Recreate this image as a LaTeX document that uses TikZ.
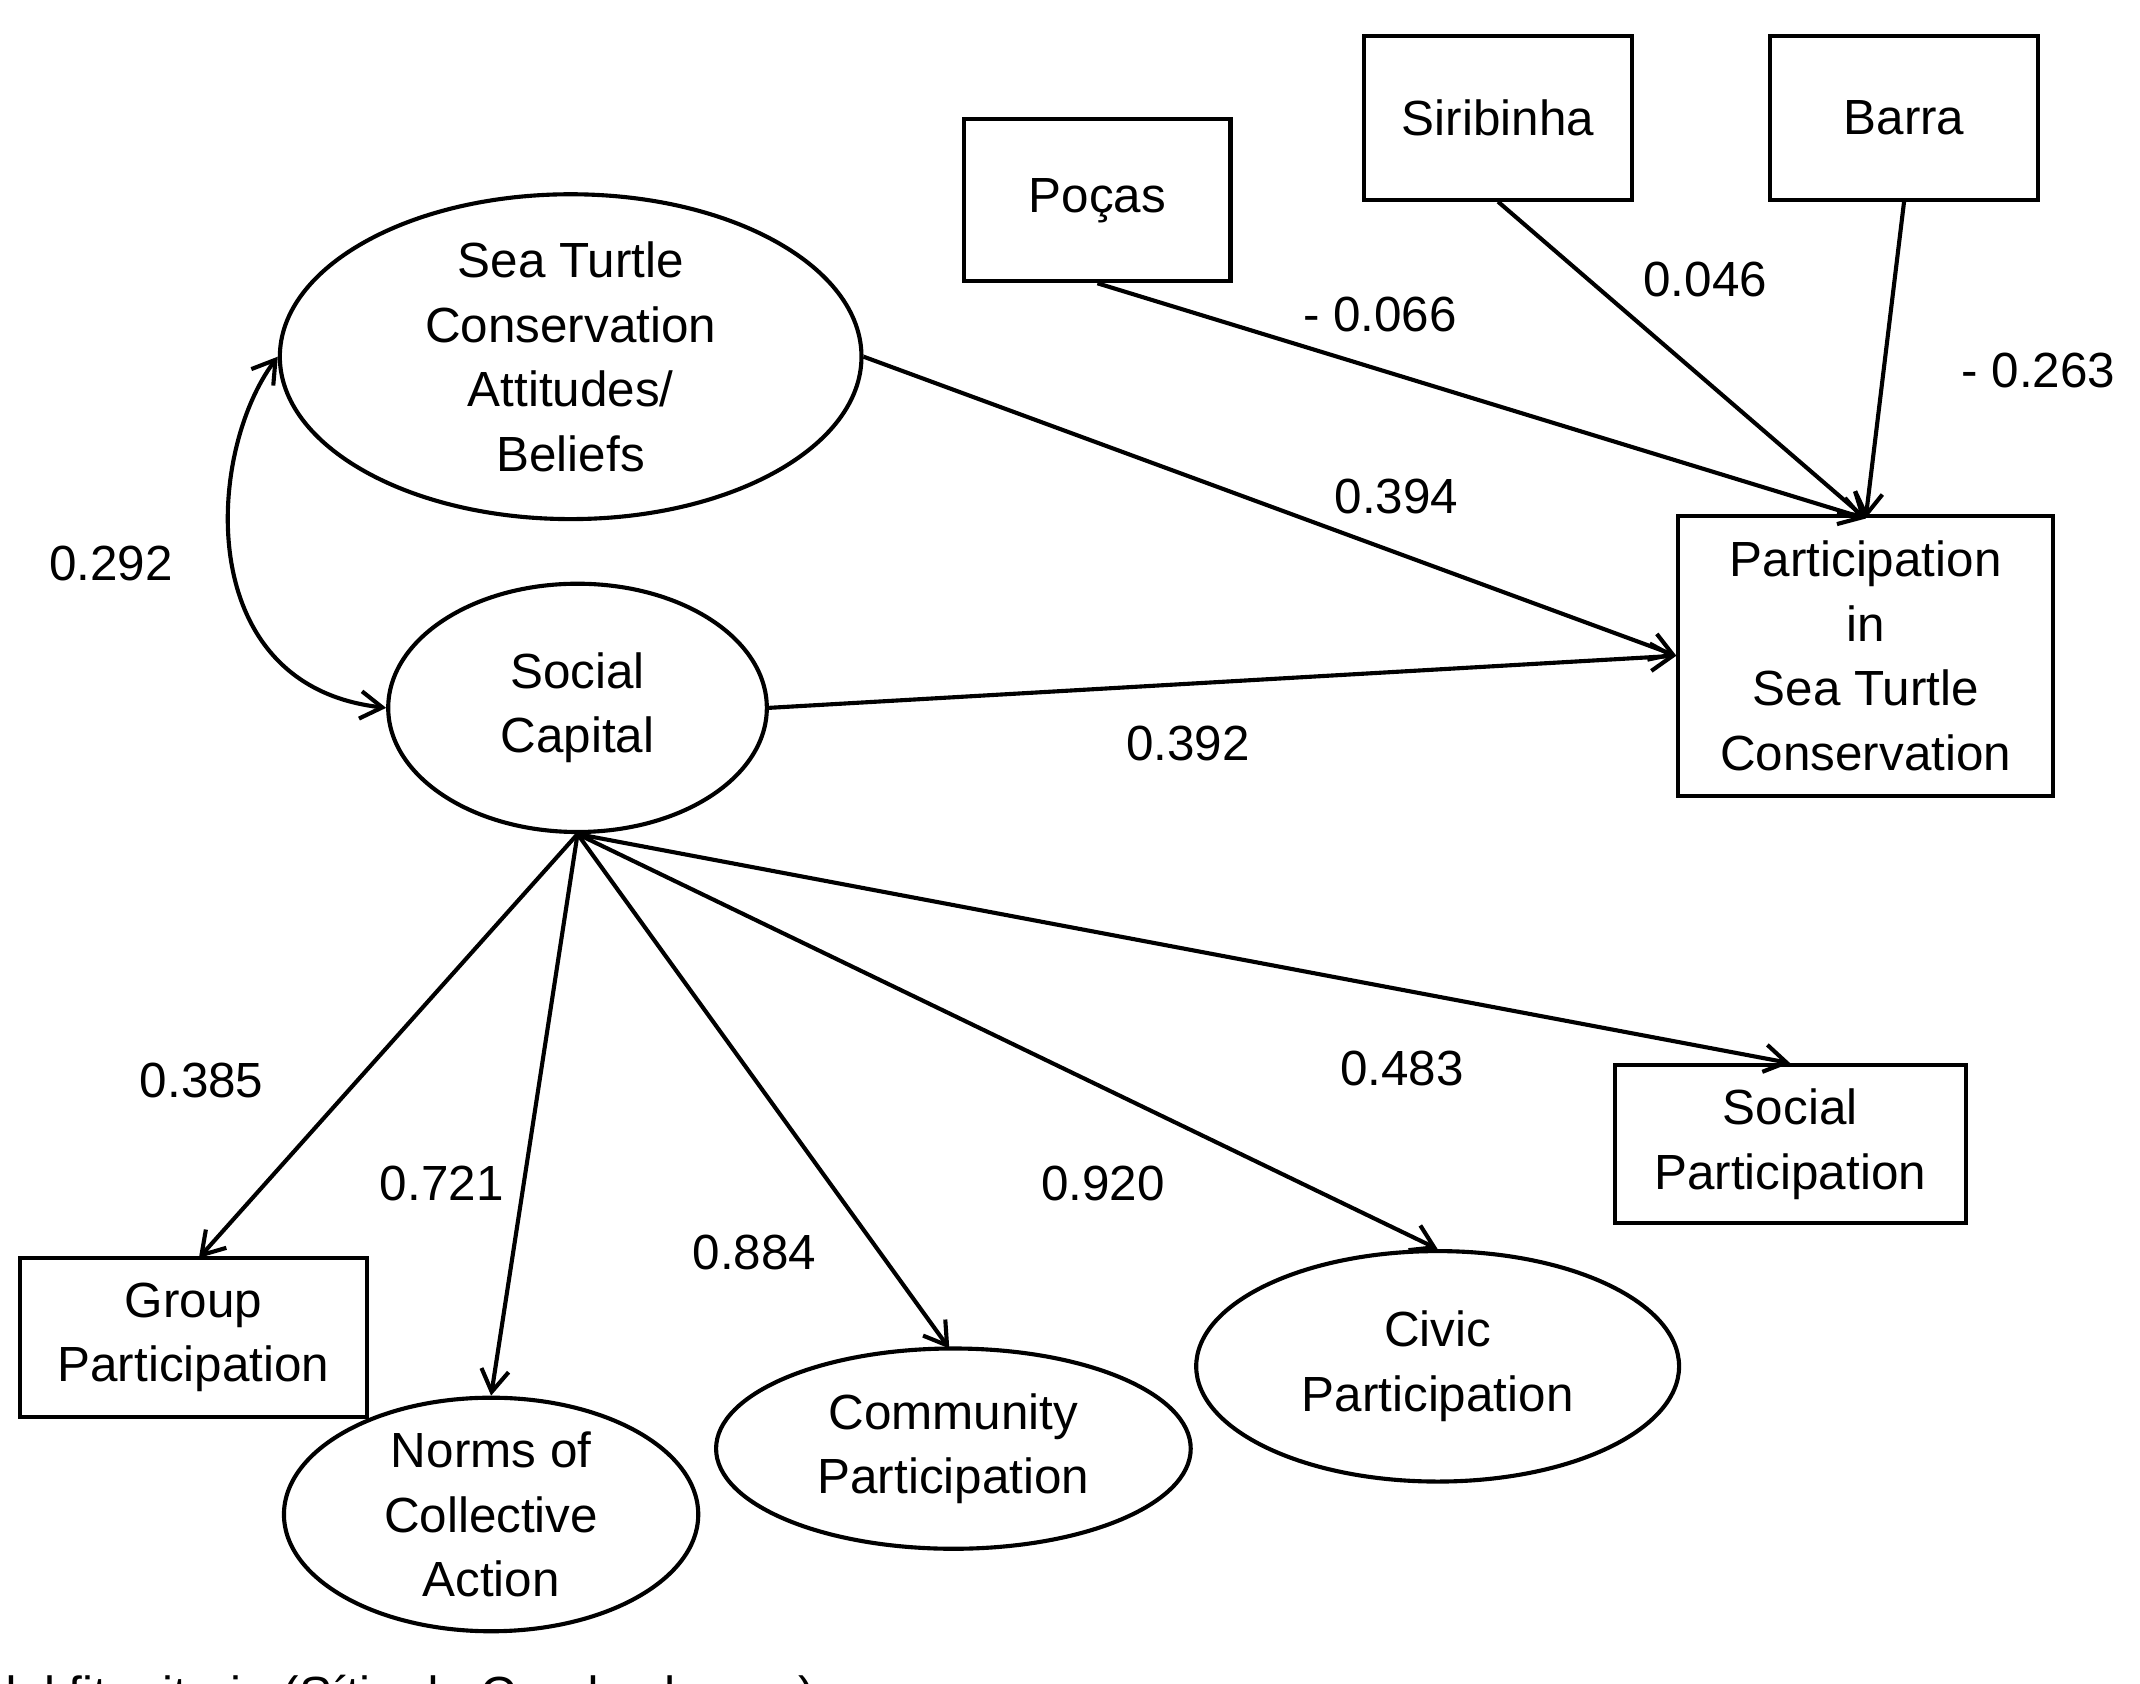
\documentclass[tikz,border=0pt]{standalone}
\usepackage{fontspec}
\setmainfont{Liberation Sans}
\usetikzlibrary{arrows.meta,shapes.geometric}
\begin{document}
\begin{tikzpicture}[x=1pt,y=-1pt,
  every node/.style={font=\fontsize{36}{47}\selectfont, align=center, inner sep=0pt},
  bx/.style={draw, line width=3pt, minimum width=#1},
  el/.style={draw, ellipse, line width=3pt},
  arr/.style={line width=3pt, -{Straight Barb[length=16pt,width=20pt,line width=3pt]}},
  lab/.style={}]
\useasboundingbox (0,0) rectangle (1560,1227);
\clip (0,0) rectangle (1560,1227);
\node[bx=194, minimum height=118] (pocas) at (800,146) {Poças};
\node[bx=195, minimum height=119] (siri) at (1092,86) {Siribinha};
\node[bx=195, minimum height=119] (barra) at (1388,86) {Barra};
\node[el, minimum width=424, minimum height=220] (stca) at (416,260) {Sea Turtle\\Conservation\\Attitudes/\\Beliefs};
\node[el, minimum width=276, minimum height=181] (sc) at (421,516) {Social\\Capital};
\node[bx=273, minimum height=204] (part) at (1360,478) {Participation\\in\\Sea Turtle\\Conservation};
\node[bx=253, minimum height=116] (group) at (141,975) {Group\\Participation};
\node[el, minimum width=302, minimum height=142] (norms) at (358,1104) {Norms of\\Collective\\Action};
\node[el, minimum width=346, minimum height=146] (comm) at (695,1056) {Community\\Participation};
\node[el, minimum width=352, minimum height=168] (civic) at (1048,996) {Civic\\Participation};
\node[bx=256, minimum height=115] (socp) at (1305,834) {Social\\Participation};
\coordinate (pt) at (1360,378);
\draw[arr] (pocas.south) -- (pt);
\draw[arr] (siri.south) -- (pt);
\draw[arr] (barra.south) -- (pt);
\draw[arr] (stca.east) -- (part.west);
\draw[arr] (sc.east) -- (part.west);
\draw[line width=3pt, {Straight Barb[length=16pt,width=20pt,line width=3pt]}-{Straight Barb[length=16pt,width=20pt,line width=3pt]}] (stca.west) .. controls (150,330) and (140,500) .. (sc.west);
\draw[arr] (sc.south) -- (145,917);
\draw[arr] (sc.south) -- (norms.north);
\draw[arr] (sc.south) -- (692,983);
\draw[arr] (sc.south) -- (civic.north);
\draw[arr] (sc.south) -- (socp.north);
\node (l1) at (1006,229) {- 0.066};
\node (l2) at (1243,204) {0.046};
\node (l3) at (1486,270) {- 0.263};
\node (l4) at (1018,362) {0.394};
\node (l5) at (866,542) {0.392};
\node (l6) at (81,411) {0.292};
\node (l7) at (147,788) {0.385};
\node (l8) at (322,863) {0.721};
\node (l9) at (550,913) {0.884};
\node (l10) at (804,863) {0.920};
\node (l11) at (1022,779) {0.483};
\node[anchor=north west] (cap) at (-8,1221) {del fit criteria (Sítio do Conde chosen)};
\end{tikzpicture}
\end{document}
